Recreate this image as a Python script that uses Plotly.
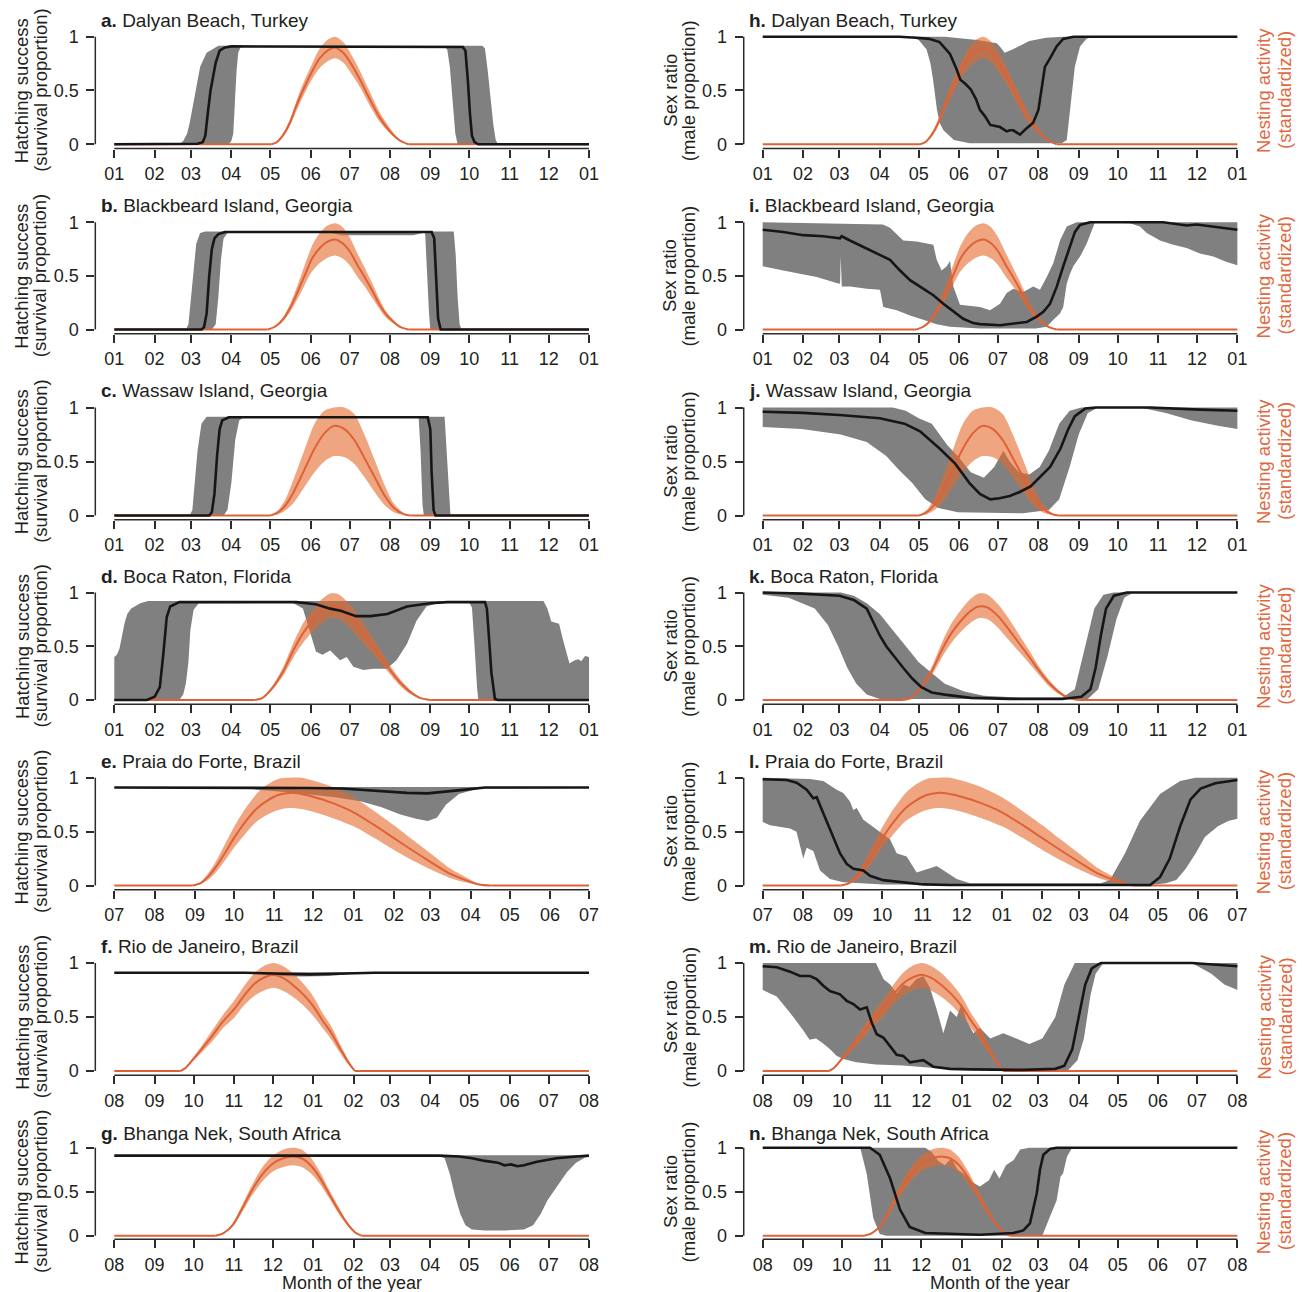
import pandas as pd
import plotly.graph_objects as go

# ---------------------------------------------------------------- data
# Nesting activity (standardized) per site: day offset from panel start, mean, lower, upper
nest_dalyan_day = [121, 125, 130, 135, 140, 145, 151.8, 158, 165, 170, 176, 182, 189, 196, 204, 212, 219, 226]
nest_dalyan_mean = [0, .02, .09, .2, .36, .5, .67, .8, .88, .9, .85, .75, .6, .43, .25, .12, .04, 0]
nest_dalyan_hi = [0, .025, .1, .23, .4, .56, .74, .89, .98, 1.0, .95, .84, .68, .5, .3, .15, .05, 0]
nest_dalyan_lo = [0, .015, .07, .17, .31, .44, .6, .71, .78, .8, .76, .66, .53, .37, .21, .1, .03, 0]

nest_blackbeard_day = [118, 124, 130, 136, 142, 147, 152, 158, 164, 170, 176, 181, 187, 192, 198, 204, 209, 213, 219, 226]
nest_blackbeard_mean = [0, .03, .1, .22, .38, .52, .66, .76, .82, .84, .8, .73, .6, .5, .37, .23, .14, .09, .03, 0]
nest_blackbeard_hi = [0, .04, .12, .26, .45, .62, .78, .9, .97, .99, .95, .86, .71, .59, .44, .28, .17, .11, .04, 0]
nest_blackbeard_lo = [0, .02, .08, .18, .31, .43, .54, .62, .67, .69, .66, .6, .49, .41, .3, .19, .11, .07, .02, 0]

nest_wassaw_day = [120, 126, 132, 138, 146, 154, 161.5, 169, 177, 184.5, 192, 200, 207.6, 215, 223, 227.6]
nest_wassaw_mean = [0, .03, .1, .22, .42, .62, .76, .83, .8, .7, .54, .36, .19, .07, .01, 0]
nest_wassaw_hi = [0, .05, .16, .34, .6, .85, .97, 1.0, 1.0, .94, .76, .52, .29, .11, .02, 0]
nest_wassaw_lo = [0, .01, .05, .12, .26, .4, .5, .55, .54, .48, .36, .22, .1, .03, .005, 0]

nest_boca_day = [108, 114, 122, 130, 138, 145, 152, 159, 166, 173, 181, 189, 197, 205, 212, 220, 227, 235, 243]
nest_boca_mean = [0, .02, .12, .27, .47, .62, .73, .82, .87, .86, .78, .66, .53, .4, .28, .16, .08, .02, 0]
nest_boca_hi = [0, .025, .14, .31, .54, .71, .83, .93, .99, .98, .89, .76, .61, .46, .32, .19, .1, .025, 0]
nest_boca_lo = [0, .015, .1, .23, .4, .53, .63, .71, .76, .75, .67, .56, .45, .34, .24, .13, .06, .015, 0]

nest_praia_day = [60, 66, 72, 78, 85, 92, 100, 110, 118, 126, 134, 144, 154, 167, 184, 200, 215, 230, 243, 258, 270, 280, 290]
nest_praia_mean = [0, .02, .08, .17, .3, .44, .58, .72, .79, .84, .86, .85, .82, .77, .68, .56, .44, .32, .22, .11, .05, .01, 0]
nest_praia_hi = [0, .03, .11, .22, .38, .54, .7, .86, .94, .99, 1.0, 1.0, .97, .92, .82, .69, .56, .42, .3, .16, .08, .02, 0]
nest_praia_lo = [0, .01, .05, .12, .23, .35, .47, .6, .66, .7, .72, .71, .68, .63, .55, .44, .33, .23, .15, .07, .03, .005, 0]

nest_rio_day = [51, 55, 60, 67, 75, 83, 92, 100, 108, 116, 123, 130, 138, 146, 153, 160, 167, 174, 180, 185]
nest_rio_mean = [0, .03, .1, .2, .32, .45, .57, .7, .81, .87, .89, .86, .79, .7, .6, .47, .35, .2, .08, 0]
nest_rio_hi = [0, .035, .115, .23, .37, .51, .65, .79, .91, .98, 1.0, .97, .9, .8, .69, .54, .41, .24, .1, 0]
nest_rio_lo = [0, .025, .085, .17, .27, .39, .49, .61, .7, .75, .77, .74, .68, .6, .51, .4, .29, .16, .06, 0]

nest_bhanga_day = [78, 84, 91, 98, 106, 114, 122, 130, 137, 144, 151, 158, 165, 172, 179, 185, 190]
nest_bhanga_mean = [0, .03, .12, .3, .52, .7, .82, .88, .9, .88, .8, .66, .48, .3, .14, .04, 0]
nest_bhanga_hi = [0, .035, .14, .34, .58, .78, .91, .98, 1.0, .98, .89, .73, .53, .34, .16, .05, 0]
nest_bhanga_lo = [0, .025, .1, .26, .46, .62, .73, .78, .8, .78, .71, .59, .43, .26, .12, .03, 0]

# Panel series: (day offset, value) pairs -- black = median, lo/hi = grey envelope
a_black = [(0, 0), (60, 0), (64, .005), (68, .02), (70, .08), (72, .3), (74, .5), (76, .63), (78, .76), (81, .87), (85, .9), (90, .91),
           (264, .91), (268, .905), (270, .87), (271, .75), (272, .57), (273.5, .28), (275, .08), (277, .02), (280, 0), (365, 0)]
a_hi = [(0, 0), (50, 0), (53, .03), (56, .1), (58, .2), (59.5, .3), (62, .45), (66, .72), (71, .85), (76, .89), (80, .915),
        (283, .915), (285, .89), (287, .7), (289.5, .41), (291.5, .18), (293.3, .04), (295, 0), (365, 0)]
a_lo = [(0, 0), (88, 0), (90, .03), (91.5, .1), (92.8, .41), (94, .68), (95.3, .85), (97, .9), (100, .905),
        (254, .905), (256, .88), (258, .72), (259.4, .57), (261, .3), (262.2, .1), (264, 0), (365, 0)]

b_black = [(0, 0), (67, 0), (69, .02), (71, .15), (73, .5), (75, .75), (77, .85), (80, .89), (85, .91),
           (244, .91), (246, .85), (247.5, .5), (249, .1), (251, 0), (365, 0)]
b_hi = [(0, 0), (55, 0), (57, .05), (59, .3), (61, .6), (63, .8), (66, .9), (70, .915),
        (261, .915), (262.5, .7), (264, .3), (265.5, .05), (267, 0), (365, 0)]
b_lo = [(0, 0), (75, 0), (78, .05), (80, .3), (82, .65), (84, .85), (87, .9), (90, .905), (165, .905), (175, .88),
        (230, .88), (237, .9), (239, .9), (240.5, .6), (242, .15), (243, 0), (365, 0)]

c_black = [(0, 0), (73, 0), (75, .03), (77, .2), (79, .55), (81, .8), (83, .88), (88, .91),
           (241, .91), (243, .8), (244, .4), (245.5, .05), (247, 0), (365, 0)]
c_hi = [(0, 0), (58, 0), (60, .05), (62, .3), (64, .6), (67, .85), (71, .915),
        (254, .915), (255.5, .6), (257, .2), (258.5, 0), (365, 0)]
c_lo = [(0, 0), (84, 0), (87, .05), (90, .3), (93, .7), (96, .88), (99, .905),
        (234, .905), (235.5, .6), (237, .1), (238, 0), (365, 0)]

d_black = [(0, 0), (25, 0), (31, .03), (35, .12), (37.7, .43), (40.3, .77), (43, .87), (50, .91), (140, .91), (155, .89),
           (166, .85), (174, .83), (186, .78), (197, .78), (210, .8), (225, .87), (243, .9), (256, .91), (285, .91),
           (286.5, .85), (288, .6), (290, .25), (292.7, .01), (295, 0), (365, 0)]
d_hi = [(0, .4), (2, .42), (4, .48), (6, .62), (8, .72), (10, .8), (13, .85), (20, .9), (26, .92), (330, .92), (333, .85),
        (336, .73), (342, .71), (345, .56), (350, .34), (354, .37), (357, .38), (359, .36), (362, .41), (365, .4)]
d_lo = [(0, 0), (50, 0), (53, .05), (55, .15), (57, .35), (58.5, .65), (61, .84), (65, .9), (137, .905), (145, .85),
        (150, .65), (155, .45), (160, .42), (166, .46), (173.6, .37), (178.7, .4), (183.8, .31), (191.5, .28), (199, .29),
        (209.5, .29), (217, .37), (225, .52), (232.5, .74), (240, .87), (250, .905), (273, .905), (275, .86), (277, .5),
        (279, .1), (280, 0), (365, 0)]

e_black = [(0, .91), (120, .91), (150, .905), (175, .9), (200, .88), (225, .86), (241, .855), (255, .87), (270, .89),
           (285, .91), (365, .91)]
e_hi = [(0, .915), (365, .915)]
e_lo = [(0, .905), (100, .905), (110, .89), (140, .86), (170, .82), (190, .78), (205, .73), (220, .66), (232, .62),
        (241, .6), (248, .63), (255, .75), (265, .85), (280, .9), (290, .905), (365, .905)]

f_black = [(0, .91), (100, .91), (130, .9), (150, .895), (170, .9), (200, .91), (365, .91)]
f_hi = [(0, .915), (365, .915)]
f_lo = [(0, .905), (110, .9), (125, .88), (145, .875), (165, .88), (185, .9), (200, .905), (365, .905)]

g_black = [(0, .91), (250, .91), (265, .9), (275, .88), (285, .85), (295, .83), (300, .8), (305, .81), (310, .79),
           (315, .8), (325, .84), (340, .88), (355, .9), (365, .91)]
g_hi = [(0, .915), (365, .915)]
g_lo = [(0, .905), (250, .905), (254, .88), (258, .7), (262, .45), (266, .25), (270, .12), (275, .07), (285, .06),
        (300, .06), (315, .07), (322, .12), (328, .25), (333, .4), (340, .55), (348, .72), (355, .83), (362, .89), (365, .9)]

h_black = [(0, 1), (105, 1), (118, .99), (128, .98), (136, .95), (144, .84), (149, .7), (152, .6), (156, .56), (160, .51),
           (164, .42), (167, .32), (171, .26), (175, .18), (179, .17), (182.5, .16), (187.6, .12), (190, .13), (192.7, .13),
           (197.8, .09), (203, .15), (208, .2), (212, .32), (214.5, .5), (217, .72), (221, .8), (226, .91), (231, .98),
           (239, 1), (365, 1)]
h_hi = [(0, 1), (140, 1), (165, .97), (180, .94), (183, .9), (186, .85), (192, .88), (205, .96), (218, .99), (231, 1), (365, 1)]
h_lo = [(0, 1), (114, 1), (120, .97), (126, .88), (129, .75), (131, .6), (134, .32), (136, .2), (139, .13), (147, .04),
        (159, .01), (230, .01), (233.8, .04), (236.3, .32), (240, .72), (244, .91), (249, .98), (254, 1), (365, 1)]

i_black = [(0, .93), (15.8, .91), (31.2, .88), (46.6, .87), (59.4, .85), (60.7, .87), (67.1, .83), (77.4, .77), (90.2, .69),
           (97.9, .65), (105.6, .55), (113.3, .46), (121, .4), (131.2, .32), (138.9, .24), (146.6, .17), (154.2, .1),
           (161.9, .06), (167.1, .05), (182.5, .04), (192.7, .056), (203, .07), (210.7, .12), (215.8, .165), (220.9, .24),
           (226.1, .4), (231.1, .59), (236.3, .77), (240.1, .91), (244, .975), (251.7, 1), (308, 1), (326, .97),
           (333.7, .98), (346.5, .96), (356.8, .94), (365, .93)]
i_hi = [(0, 1), (92.4, .98), (97.9, .95), (108.1, .83), (118.4, .82), (131.2, .79), (133.8, .65), (137.6, .55), (141.5, .59),
        (144, .64), (146.6, .4), (151.7, .23), (167.1, .21), (174.8, .18), (182.5, .24), (187.6, .34), (192.7, .38),
        (200.4, .35), (208, .4), (213.2, .37), (218.4, .49), (223.5, .62), (228.6, .83), (233.8, .96), (241.4, 1), (365, 1)]
i_lo = [(0, .59), (15.8, .55), (41.5, .49), (58.1, .43), (59.5, .43), (60, .68), (60.8, .4), (67.1, .4), (80, .38),
        (90.2, .37), (92.7, .21), (103, .18), (113.3, .13), (123.5, .09), (133.8, .05), (144, .025), (167, .01), (210, .01),
        (218.4, .025), (223.5, .09), (228.6, .15), (231.1, .21), (233.8, .43), (236.3, .52), (238.8, .59), (244, .68),
        (249.1, .8), (251.7, .88), (255.5, 1), (282.4, .99), (290.1, .96), (295.3, .9), (305.5, .83), (315.7, .79),
        (326, .76), (336.2, .71), (346.5, .68), (356.8, .63), (365, .6)]

j_black = [(0, .96), (31, .95), (59, .93), (90, .9), (109, .85), (121, .78), (136, .62), (148, .48), (159, .3), (167, .2),
           (175, .15), (182, .16), (190, .18), (198, .22), (206, .27), (213, .35), (221, .45), (229, .62), (235, .8),
           (240, .92), (248, .99), (256, 1), (298, 1), (336, .98), (365, .97)]
j_hi = [(0, 1), (100, 1), (110, .97), (120, .9), (130, .85), (136, .75), (142, .65), (150, .55), (160, .4), (170, .35),
        (178, .45), (185, .6), (190, .5), (197, .4), (205, .38), (213, .45), (220, .6), (228, .85), (236, .97), (245, 1), (365, 1)]
j_lo = [(0, .82), (30, .8), (60, .75), (80, .68), (95, .55), (105, .42), (115, .3), (125, .15), (135, .07), (150, .03),
        (200, .02), (220, .05), (228, .15), (236, .45), (243, .75), (250, .95), (258, 1), (290, 1), (310, .95), (330, .88),
        (350, .83), (365, .8)]

k_black = [(0, 1), (30, .99), (59, .97), (70, .93), (80, .85), (85, .72), (90, .6), (95, .5), (100, .42), (108, .3),
           (115, .2), (122, .12), (130, .07), (140, .05), (160, .02), (190, .01), (230, .01), (245, .03), (252, .1),
           (256, .3), (260, .6), (264, .85), (270, .97), (280, 1), (365, 1)]
k_hi = [(0, 1), (60, 1), (70, .97), (80, .9), (90, .8), (100, .65), (110, .5), (120, .35), (130, .25), (140, .15), (155, .08),
        (170, .04), (200, .02), (230, .02), (240, .1), (248, .5), (255, .85), (262, .98), (270, 1), (365, 1)]
k_lo = [(0, .98), (20, .95), (40, .85), (50, .7), (58, .5), (65, .3), (72, .15), (80, .05), (90, .01), (250, .01), (258, .1),
        (265, .4), (272, .75), (278, .95), (285, 1), (365, 1)]

l_black = [(0, .986), (18.5, .98), (26.1, .955), (33.8, .89), (38.9, .81), (41.5, .82), (46.6, .67), (54.3, .45), (59.4, .3),
           (64.6, .2), (69.7, .155), (77.4, .14), (82.5, .09), (92.7, .05), (108.1, .03), (123.5, .01), (144, .005),
           (298, .005), (305.6, .08), (313, .25), (321, .55), (329, .8), (336.7, .9), (348, .95), (365, .98)]
l_hi = [(0, 1), (36.4, .99), (46.6, .97), (56.9, .89), (62, .86), (67.1, .78), (69.7, .7), (72.3, .72), (77.4, .61),
        (87.7, .52), (97.9, .43), (103, .3), (110.7, .27), (118.4, .12), (126, .15), (133.8, .18), (141.5, .12),
        (149.2, .06), (159.4, .02), (260, .02), (267, .05), (278.6, .3), (290, .6), (305.5, .85), (321, .97), (332.6, 1), (365, 1)]
l_lo = [(0, .59), (5.6, .56), (21, .53), (26, .5), (28.7, .37), (31.2, .25), (33.8, .35), (38.9, .32), (41.5, .23),
        (44.1, .14), (51.7, .06), (62, .03), (92.7, .01), (295, 0), (310, .02), (318, .05), (325, .15), (333, .3),
        (340, .45), (350, .55), (358, .6), (365, .62)]

m_black = [(0, .97), (10.8, .96), (21, .92), (28.7, .88), (36.4, .88), (41.5, .85), (46.6, .79), (51.7, .74), (59.4, .71),
           (64.6, .65), (69.7, .62), (74.8, .57), (80, .59), (83.8, .45), (87.7, .34), (92.7, .31), (97.9, .23), (103, .15),
           (108.1, .14), (113.3, .08), (118.4, .09), (123.5, .1), (131.2, .04), (144, .02), (159.4, .015), (200, .01),
           (225, .02), (232, .05), (238, .2), (243, .5), (248, .8), (253, .95), (260, 1), (330, 1), (365, .97)]
m_hi = [(0, 1), (87, 1), (93, .85), (98, .8), (103, .72), (108, .8), (113, .78), (118, .85), (123.5, .88), (128.6, .77),
        (133.8, .57), (138.9, .35), (144, .56), (149.2, .5), (153, .62), (157, .46), (162, .35), (167, .4), (175, .3),
        (185, .35), (195, .3), (205, .25), (215, .3), (225, .5), (232, .8), (240, 1), (365, 1)]
m_lo = [(0, .75), (10.8, .69), (21, .54), (31, .38), (36, .29), (41, .3), (46, .26), (52, .2), (57, .14), (62, .11),
        (72, .08), (87, .06), (108, .05), (139, .02), (167, .01), (235, .01), (242, .1), (247, .3), (252, .7), (256, .9),
        (262, 1), (330, 1), (345, .9), (355, .8), (365, .75)]

n_black = [(0, 1), (82.5, 1), (90, .92), (98, .65), (105.5, .3), (113, .1), (125, .03), (167, .01), (192.7, .03),
           (200.4, .06), (205.5, .14), (210.7, .48), (213.2, .75), (215.8, .92), (220.9, .985), (226, 1), (365, 1)]
n_hi = [(0, 1), (125, 1), (130, .95), (135, .85), (140, .8), (145, .88), (150, .75), (155, .7), (160, .62), (167, .56),
        (174, .63), (178, .75), (182, .65), (187, .8), (193, .86), (198, .98), (205, 1), (365, 1)]
n_lo = [(0, 1), (75, 1), (80, .7), (85, .2), (90, .02), (95, 0), (215, 0), (221, .22), (226, .4), (229, .67), (231, .71),
        (234, .9), (238, 1), (365, 1)]

# labels
letters = list("abcdefghijklmn")
site_names = ["Dalyan Beach, Turkey", "Blackbeard Island, Georgia", "Wassaw Island, Georgia", "Boca Raton, Florida",
              "Praia do Forte, Brazil", "Rio de Janeiro, Brazil", "Bhanga Nek, South Africa"]
site_start = ["2021-01-01", "2021-01-01", "2021-01-01", "2021-01-01", "2021-07-01", "2021-08-01", "2021-08-01"]
y_tick_vals = [0, 0.5, 1]
y_tick_text = ["0", "0.5", "1"]

nests = [
    (nest_dalyan_day, nest_dalyan_mean, nest_dalyan_lo, nest_dalyan_hi),
    (nest_blackbeard_day, nest_blackbeard_mean, nest_blackbeard_lo, nest_blackbeard_hi),
    (nest_wassaw_day, nest_wassaw_mean, nest_wassaw_lo, nest_wassaw_hi),
    (nest_boca_day, nest_boca_mean, nest_boca_lo, nest_boca_hi),
    (nest_praia_day, nest_praia_mean, nest_praia_lo, nest_praia_hi),
    (nest_rio_day, nest_rio_mean, nest_rio_lo, nest_rio_hi),
    (nest_bhanga_day, nest_bhanga_mean, nest_bhanga_lo, nest_bhanga_hi),
]
panel_series = [
    (a_black, a_lo, a_hi), (b_black, b_lo, b_hi), (c_black, c_lo, c_hi), (d_black, d_lo, d_hi),
    (e_black, e_lo, e_hi), (f_black, f_lo, f_hi), (g_black, g_lo, g_hi),
    (h_black, h_lo, h_hi), (i_black, i_lo, i_hi), (j_black, j_lo, j_hi), (k_black, k_lo, k_hi),
    (l_black, l_lo, l_hi), (m_black, m_lo, m_hi), (n_black, n_lo, n_hi),
]

# ---------------------------------------------------------------- layout constants
W, H = 1302, 1292
FONT = "Liberation Sans, Arial, Helvetica, sans-serif"
TXT = "#231F20"
GREY = "#808080"
BLACK = "#161616"
ORANGE = "#DD6238"
ORANGE_BAND = "rgba(230,105,45,0.6)"
ORANGE_TXT = "#E0683F"
AXIS = "#2b2b2b"

ROW_Y1 = [36.7, 222.3, 407.5, 592.5, 777.8, 963.0, 1147.7]   # pixel of value 1
ROW_Y0 = [144.3, 329.5, 515.5, 700.0, 885.5, 1071.0, 1235.7]  # pixel of value 0
COL_X0 = [114.3, 762.7]                                     # pixel of first month tick
PX_DAY = 1.3005
PAD_D = 0.04 * 365


def to_dates(start, days):
    s = pd.Timestamp(start)
    return [s + pd.Timedelta(days=float(d)) for d in days]


fig = go.Figure()
layout = dict(template="none", width=W, height=H, autosize=False, margin=dict(l=0, r=0, t=0, b=0, pad=0),
              paper_bgcolor="white", plot_bgcolor="white", showlegend=False,
              font=dict(family=FONT, color=TXT, size=18))
shapes, annotations = [], []

for k in range(14):
    col, row = divmod(k, 7)
    idx = k + 1
    xa = "x" if idx == 1 else f"x{idx}"
    ya = "y" if idx == 1 else f"y{idx}"
    start = site_start[row]
    s = pd.Timestamp(start)
    end = s + pd.DateOffset(years=1)
    blk, lo, hi = panel_series[k]
    nd, nm, nl, nh = nests[row]

    # grey envelope
    gx = to_dates(start, [p[0] for p in hi]) + to_dates(start, [p[0] for p in lo])[::-1]
    gy = [p[1] for p in hi] + [p[1] for p in lo][::-1]
    fig.add_trace(go.Scatter(x=gx, y=gy, xaxis=xa, yaxis=ya, mode="lines", fill="toself",
                             fillcolor=GREY, line=dict(width=0, color=GREY), hoverinfo="skip"))
    # orange band
    ox = to_dates(start, nd) + to_dates(start, nd)[::-1]
    oy = list(nh) + list(nl)[::-1]
    fig.add_trace(go.Scatter(x=ox, y=oy, xaxis=xa, yaxis=ya, mode="lines", fill="toself",
                             fillcolor=ORANGE_BAND, line=dict(width=0, shape="spline", smoothing=0.8),
                             hoverinfo="skip"))
    # orange line: flat zero baseline + the seasonal bump
    fig.add_trace(go.Scatter(x=to_dates(start, [0, nd[0]]), y=[0, 0], xaxis=xa, yaxis=ya,
                             mode="lines", line=dict(color=ORANGE, width=2), hoverinfo="skip"))
    fig.add_trace(go.Scatter(x=to_dates(start, [nd[-1], 365]), y=[0, 0], xaxis=xa, yaxis=ya,
                             mode="lines", line=dict(color=ORANGE, width=2), hoverinfo="skip"))
    fig.add_trace(go.Scatter(x=to_dates(start, nd), y=nm, xaxis=xa, yaxis=ya,
                             mode="lines", line=dict(color=ORANGE, width=2, shape="spline", smoothing=0.8),
                             hoverinfo="skip"))
    # black line
    fig.add_trace(go.Scatter(x=to_dates(start, [p[0] for p in blk]), y=[p[1] for p in blk], xaxis=xa, yaxis=ya,
                             mode="lines", line=dict(color=BLACK, width=2.6), hoverinfo="skip"))

    y1, y0 = ROW_Y1[row], ROW_Y0[row]
    span = y0 - y1
    top_px, bot_px = y1 - 0.04 * span, y0 + 0.04 * span
    left_px = COL_X0[col] - PAD_D * PX_DAY
    right_px = COL_X0[col] + (365 + PAD_D) * PX_DAY

    layout["xaxis" if idx == 1 else f"xaxis{idx}"] = dict(
        type="date", domain=[left_px / W, right_px / W], anchor=ya, automargin=False,
        range=[s - pd.Timedelta(days=PAD_D), s + pd.Timedelta(days=365 + PAD_D)],
        tickvals=list(pd.date_range(s, end, freq="MS")), tickformat="%m",
        ticks="outside", ticklen=8, tickwidth=1.5, tickcolor=AXIS, ticklabelstandoff=1,
        showgrid=False, zeroline=False, showline=False, tickfont=dict(size=18, color=TXT, family=FONT))
    layout["yaxis" if idx == 1 else f"yaxis{idx}"] = dict(
        domain=[1 - bot_px / H, 1 - top_px / H], anchor=xa, range=[-0.04, 1.04], automargin=False,
        tickvals=y_tick_vals, ticktext=y_tick_text,
        ticks="outside", ticklen=8, tickwidth=1.5, tickcolor=AXIS, ticklabelstandoff=4,
        showgrid=False, zeroline=False, showline=False, tickfont=dict(size=18, color=TXT, family=FONT))

    # R-style axis lines spanning the tick range only
    shapes.append(dict(type="line", xref=f"{xa} domain", yref=ya, x0=0, x1=0, y0=0, y1=1,
                       line=dict(color=AXIS, width=1.5), layer="above"))
    shapes.append(dict(type="line", xref=xa, yref=f"{ya} domain", x0=s, x1=end, y0=0, y1=0,
                       line=dict(color=AXIS, width=1.5), layer="above"))

    # panel title
    ty = y1 - (14.5 if row == 6 else 16.5)
    annotations.append(dict(text=f"<b>{letters[k]}.</b> {site_names[row]}", x=(COL_X0[col] - 15.5) / W,
                            y=1 - ty / H, xref="paper", yref="paper", xanchor="left", yanchor="middle",
                            showarrow=False, font=dict(size=19, color=TXT, family=FONT)))
    # axis titles
    ymid = 1 - (y1 + y0) / 2 / H
    t1, t2 = ("Hatching success", "(survival proportion)") if col == 0 else ("Sex ratio", "(male proportion)")
    for txt, dx in ((t1, -92.5), (t2, -74.0)):
        annotations.append(dict(text=txt, x=(COL_X0[col] + dx) / W, y=ymid, xref="paper", yref="paper",
                                xanchor="center", yanchor="middle", textangle=-90, showarrow=False,
                                font=dict(size=18.5, color=TXT, family=FONT)))
    if col == 1:
        for txt, px in (("Nesting activity", 1263.5), ("(standardized)", 1284.5)):
            annotations.append(dict(text=txt, x=px / W, y=ymid, xref="paper", yref="paper",
                                    xanchor="center", yanchor="middle", textangle=-90, showarrow=False,
                                    font=dict(size=18.5, color=ORANGE_TXT, family=FONT)))
    if row == 6:
        annotations.append(dict(text="Month of the year", x=(COL_X0[col] + 237.5) / W, y=1 - 1283 / H,
                                xref="paper", yref="paper", xanchor="center", yanchor="middle",
                                showarrow=False, font=dict(size=18, color=TXT, family=FONT)))

layout["shapes"] = shapes
layout["annotations"] = annotations
fig.update_layout(**layout)
fig.write_html("out.html", config={"displayModeBar": False, "responsive": False},
               post_script="document.body.style.margin='0';document.body.style.padding='0';"
                           "document.body.style.overflow='hidden';")
